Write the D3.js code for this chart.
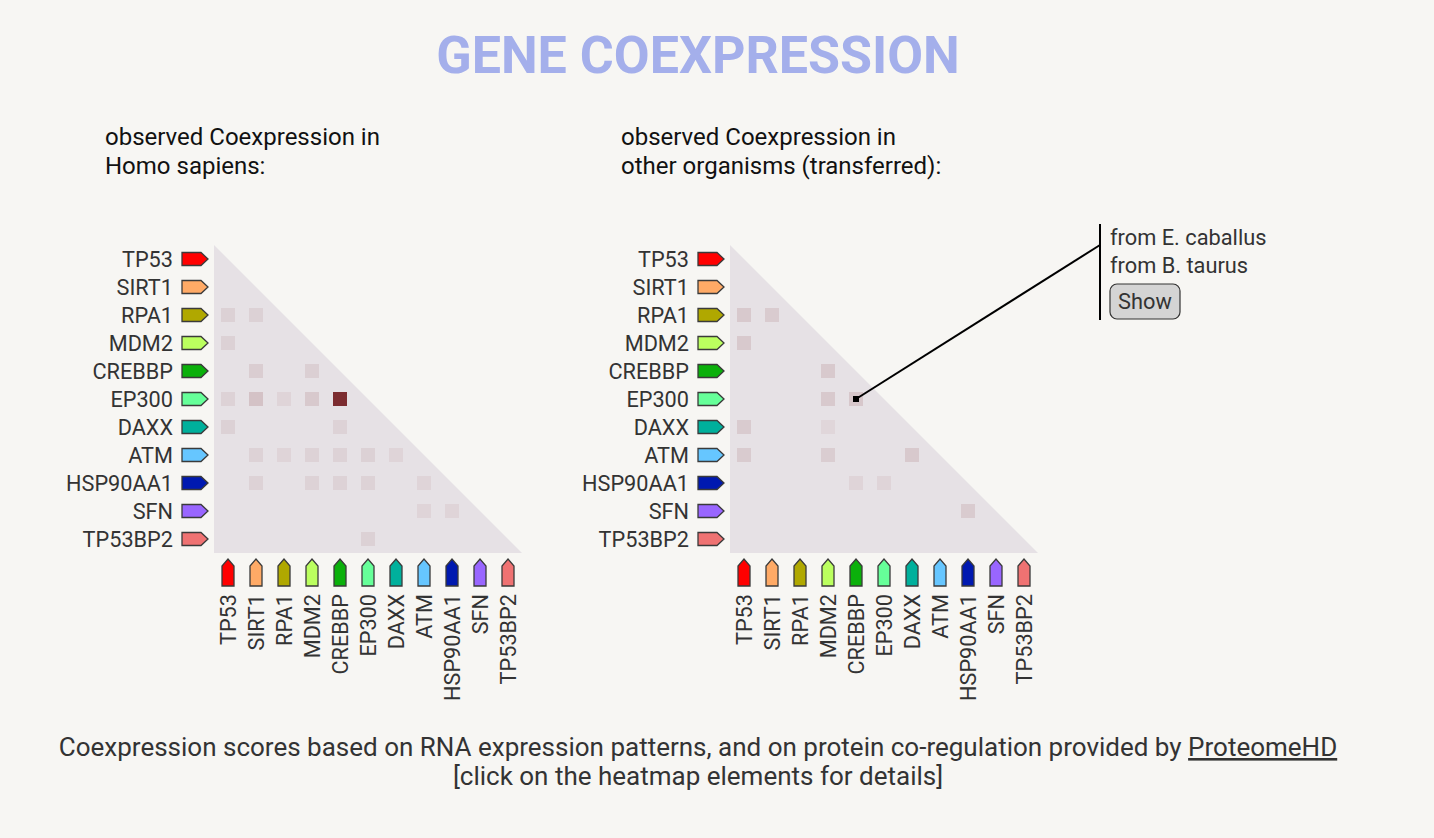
<!DOCTYPE html>
<html>
<head>
<meta charset="utf-8">
<script src="https://cdn.jsdelivr.net/npm/d3@7"></script>
<style>
  html, body { margin: 0; padding: 0; background: #f7f6f3; }
  svg { display: block; font-family: Roboto, "Noto Sans", sans-serif; }
</style>
</head>
<body>
<svg id="chart" width="1434" height="838"></svg>
<script>
// ---- data ----
const genes = ["TP53", "SIRT1", "RPA1", "MDM2", "CREBBP", "EP300", "DAXX", "ATM", "HSP90AA1", "SFN", "TP53BP2"];
const geneColors = ["#ff0000", "#ffaa66", "#b0a800", "#bbff5f", "#0bb00b", "#66ff99", "#00b09c", "#66c6ff", "#0019b0", "#9966ff", "#ef7272"];

// observed coexpression in Homo sapiens: [row gene, column gene, score]
const humanRows = ["RPA1", "RPA1", "MDM2", "CREBBP", "CREBBP", "EP300", "EP300", "EP300", "EP300", "EP300", "DAXX", "DAXX",
  "ATM", "ATM", "ATM", "ATM", "ATM", "ATM", "HSP90AA1", "HSP90AA1", "HSP90AA1", "HSP90AA1", "HSP90AA1", "SFN", "SFN", "TP53BP2"];
const humanCols = ["TP53", "SIRT1", "TP53", "SIRT1", "MDM2", "TP53", "SIRT1", "RPA1", "MDM2", "CREBBP", "TP53", "CREBBP",
  "SIRT1", "RPA1", "MDM2", "CREBBP", "EP300", "DAXX", "SIRT1", "MDM2", "CREBBP", "EP300", "ATM", "ATM", "HSP90AA1", "EP300"];
const humanScores = [0.09, 0.09, 0.09, 0.11, 0.10, 0.08, 0.17, 0.07, 0.13, 0.99, 0.09, 0.08,
  0.08, 0.07, 0.08, 0.08, 0.09, 0.07, 0.08, 0.08, 0.08, 0.08, 0.07, 0.07, 0.07, 0.09];

// observed coexpression in other organisms (transferred)
const otherRows = ["RPA1", "RPA1", "MDM2", "CREBBP", "EP300", "EP300", "DAXX", "DAXX", "ATM", "ATM", "ATM", "HSP90AA1", "HSP90AA1", "SFN"];
const otherCols = ["TP53", "SIRT1", "TP53", "MDM2", "MDM2", "CREBBP", "TP53", "MDM2", "TP53", "MDM2", "DAXX", "CREBBP", "EP300", "HSP90AA1"];
const otherScores = [0.13, 0.12, 0.13, 0.13, 0.13, 0.14, 0.12, 0.06, 0.12, 0.11, 0.13, 0.07, 0.07, 0.12];

const selectedSpecies = ["from E. caballus", "from B. taurus"];
const selectedPair = ["EP300", "CREBBP"];

// ---- drawing ----
const svg = d3.select("#chart");
const textColor = "#333333";
const cell = 28;
const n = genes.length;
const labelSize = 21.7;

svg.append("text")
  .attr("x", 698).attr("y", 73)
  .attr("text-anchor", "middle")
  .attr("font-size", 52).attr("font-weight", 700)
  .attr("fill", "#a4afeb")
  .text("GENE COEXPRESSION");

const subtitles = [
  { x: 105, lines: ["observed Coexpression in", "Homo sapiens:"] },
  { x: 621, lines: ["observed Coexpression in", "other organisms (transferred):"] }
];
subtitles.forEach(s => {
  s.lines.forEach((l, i) => {
    svg.append("text").attr("x", s.x).attr("y", 145 + i * 29)
      .attr("font-size", 24).attr("fill", "#111").text(l);
  });
});

const colorScale = d3.scaleLinear().domain([0, 1]).range(["#e6e1e5", "#7b2a2e"]);

function heatmap(x0, y0, rows, cols, scores) {
  const g = svg.append("g").attr("transform", `translate(${x0},${y0})`);
  const band = d3.scaleBand().domain(genes).range([0, n * cell]);
  const color = d3.scaleOrdinal().domain(genes).range(geneColors);

  // triangle background
  g.append("path")
    .attr("d", d3.line()([[0, 0], [0, band.range()[1]], [band.range()[1], band.range()[1]]]) + "Z")
    .attr("fill", "#e6e1e5");

  // cells
  const data = rows.map((r, i) => ({ r, c: cols[i], s: scores[i] }));
  g.selectAll("rect.cell").data(data).join("rect")
    .attr("class", "cell")
    .attr("x", d => band(d.c) + 7).attr("y", d => band(d.r) + 7)
    .attr("width", 14).attr("height", 14)
    .attr("fill", d => colorScale(d.s));

  // row labels & arrows
  genes.forEach(gn => {
    const cy = band(gn) + cell / 2;
    g.append("text").attr("x", -41).attr("y", cy).attr("dy", "0.35em")
      .attr("text-anchor", "end").attr("font-size", labelSize).attr("fill", textColor).text(gn);
    g.append("path")
      .attr("d", `M${-32},${cy - 6.5}H${-13}L${-6},${cy}L${-13},${cy + 6.5}H${-32}Z`)
      .attr("fill", color(gn)).attr("stroke", "#3a3a3a").attr("stroke-width", 1.3);
    const cx = band(gn) + cell / 2;
    const b = n * cell;
    g.append("path")
      .attr("d", `M${cx - 6},${b + 33}V${b + 13}L${cx},${b + 6}L${cx + 6},${b + 13}V${b + 33}Z`)
      .attr("fill", color(gn)).attr("stroke", "#3a3a3a").attr("stroke-width", 1.3);
    g.append("text")
      .attr("transform", `translate(${cx},${b + 41}) rotate(-90)`)
      .attr("dy", "0.35em").attr("text-anchor", "end")
      .attr("font-size", labelSize).attr("fill", textColor).text(gn);
  });
  return { g, band };
}

heatmap(214, 245, humanRows, humanCols, humanScores);
const right = heatmap(730, 245, otherRows, otherCols, otherScores);

// selection marker and callout
const mx = 730 + right.band(selectedPair[1]) + cell / 2;
const my = 245 + right.band(selectedPair[0]) + cell / 2;
svg.append("line").attr("x1", mx).attr("y1", my).attr("x2", 1100).attr("y2", 245)
  .attr("stroke", "#000").attr("stroke-width", 2);
svg.append("rect").attr("x", mx - 3).attr("y", my - 3).attr("width", 6).attr("height", 6).attr("fill", "#000");
svg.append("line").attr("x1", 1100).attr("y1", 224).attr("x2", 1100).attr("y2", 320)
  .attr("stroke", "#000").attr("stroke-width", 2);
selectedSpecies.forEach((s, i) => {
  svg.append("text").attr("x", 1110).attr("y", 245 + i * 28)
    .attr("font-size", 21.8).attr("fill", textColor).text(s);
});
svg.append("rect").attr("x", 1110).attr("y", 284).attr("width", 70).attr("height", 35).attr("rx", 7)
  .attr("fill", "#d4d4d4").attr("stroke", "#333").attr("stroke-width", 1.2);
svg.append("text").attr("x", 1145).attr("y", 309).attr("text-anchor", "middle")
  .attr("font-size", 21.8).attr("fill", textColor).text("Show");

// footer
const foot = svg.append("text").attr("x", 698).attr("y", 756).attr("text-anchor", "middle")
  .attr("font-size", 26).attr("fill", textColor);
foot.append("tspan").text("Coexpression scores based on RNA expression patterns, and on protein co-regulation provided by ");
foot.append("tspan").attr("text-decoration", "underline").text("ProteomeHD");
svg.append("text").attr("x", 698).attr("y", 785).attr("text-anchor", "middle")
  .attr("font-size", 26).attr("fill", textColor).text("[click on the heatmap elements for details]");
</script>
</body>
</html>
